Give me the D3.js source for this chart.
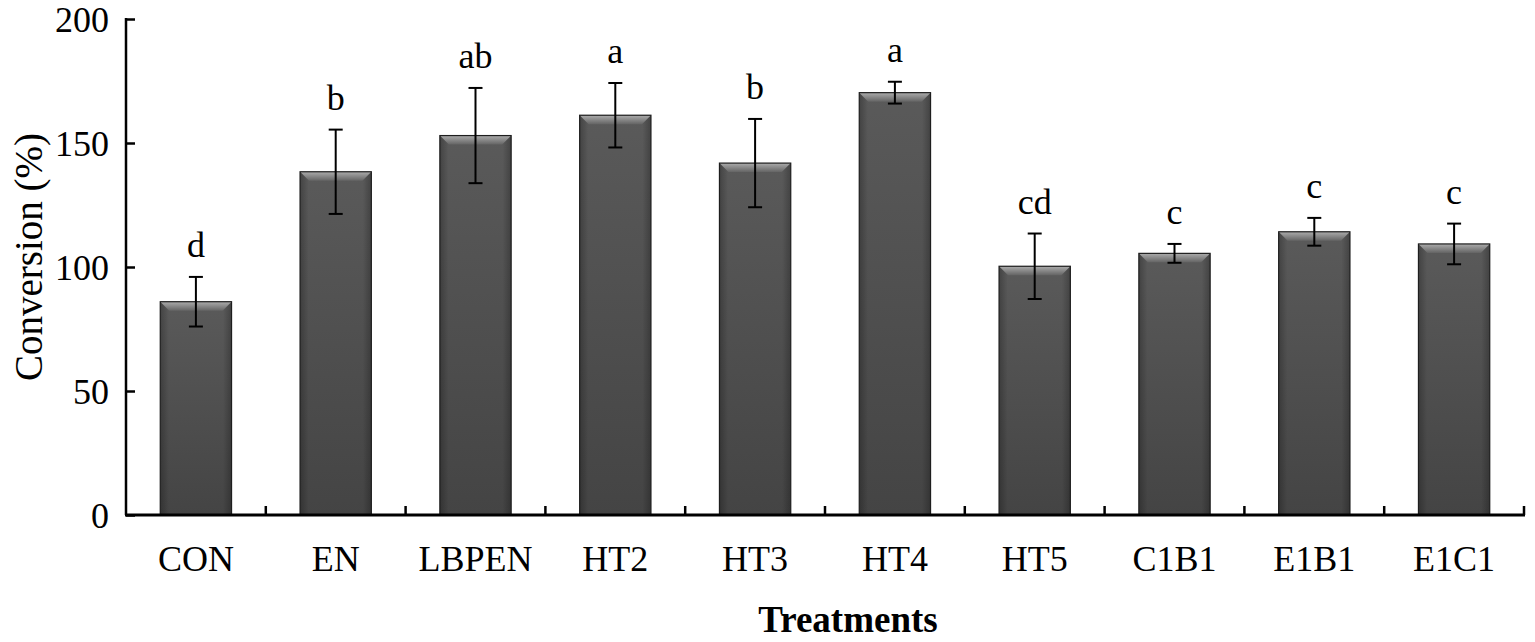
<!DOCTYPE html>
<html>
<head>
<meta charset="utf-8">
<script src="https://cdn.jsdelivr.net/npm/d3@7"></script>
<style>
  body { margin: 0; background: #fff; }
  svg { display: block; }
  text { font-family: "Liberation Serif", "Times New Roman", serif; fill: #000; }
</style>
</head>
<body>
<div id="chart"></div>
<script>
(function () {
	'use strict';

	// data
	var treatments = ["CON", "EN", "LBPEN", "HT2", "HT3", "HT4", "HT5", "C1B1", "E1B1", "E1C1"];
	var conversion = [86, 138.4, 153, 161.2, 141.9, 170.3, 100.3, 105.5, 114.2, 109.3];
	var errors = [10, 17, 19.2, 13, 17.8, 4.4, 13.2, 3.8, 5.6, 8.2];
	var groups = ["d", "b", "ab", "a", "b", "a", "cd", "c", "c", "c"];
	var yTicks = [0, 50, 100, 150, 200];

	var width = 1535, height = 642;
	var left = 126, right = 1524, top = 19, bottom = 515;

	var svg = d3.select("#chart")
		.append("svg")
		.attr("width", width)
		.attr("height", height);

	var defs = svg.append("defs");

	// body of the bar, slightly darker towards the base
	var body = defs.append("linearGradient")
		.attr("id", "barBody")
		.attr("x1", 0).attr("y1", 0).attr("x2", 0).attr("y2", 1);
	body.append("stop").attr("offset", "0%").attr("stop-color", "#5a5a5a");
	body.append("stop").attr("offset", "100%").attr("stop-color", "#444");

	// side shading
	var sides = defs.append("linearGradient")
		.attr("id", "barSides")
		.attr("x1", 0).attr("y1", 0).attr("x2", 1).attr("y2", 0);
	sides.append("stop").attr("offset", "0%").attr("stop-color", "#000").attr("stop-opacity", 0.25);
	sides.append("stop").attr("offset", "12%").attr("stop-color", "#000").attr("stop-opacity", 0);
	sides.append("stop").attr("offset", "88%").attr("stop-color", "#000").attr("stop-opacity", 0);
	sides.append("stop").attr("offset", "100%").attr("stop-color", "#000").attr("stop-opacity", 0.25);

	// bevel at the top edge
	var bevel = defs.append("linearGradient")
		.attr("id", "barBevel")
		.attr("x1", 0).attr("y1", 0).attr("x2", 0).attr("y2", 1);
	bevel.append("stop").attr("offset", "0%").attr("stop-color", "#acacac");
	bevel.append("stop").attr("offset", "100%").attr("stop-color", "#646464");

	var x = d3.scaleBand()
		.domain(treatments)
		.range([left, right])
		.paddingInner(0.49)
		.paddingOuter(0.245);

	var y = d3.scaleLinear()
		.domain([0, 200])
		.range([bottom, top]);

	var rows = treatments.map(function (t, i) {
		return { name: t, value: conversion[i], err: errors[i], group: groups[i] };
	});

	var bw = x.bandwidth();
	var bevelH = 9, bevelIn = 9;

	var bars = svg.selectAll("g.bar")
		.data(rows)
		.enter()
		.append("g")
		.attr("class", "bar");

	bars.append("rect")
		.attr("x", function (d) { return x(d.name); })
		.attr("y", function (d) { return y(d.value); })
		.attr("width", bw)
		.attr("height", function (d) { return y(0) - y(d.value); })
		.attr("fill", "url(#barBody)");

	bars.append("rect")
		.attr("x", function (d) { return x(d.name); })
		.attr("y", function (d) { return y(d.value); })
		.attr("width", bw)
		.attr("height", function (d) { return y(0) - y(d.value); })
		.attr("fill", "url(#barSides)");

	bars.append("path")
		.attr("fill", "url(#barBevel)")
		.attr("d", function (d) {
			var x0 = x(d.name), y0 = y(d.value);
			return "M" + x0 + "," + y0 +
				"L" + (x0 + bw) + "," + y0 +
				"L" + (x0 + bw - bevelIn) + "," + (y0 + bevelH) +
				"L" + (x0 + bevelIn) + "," + (y0 + bevelH) + "Z";
		});

	bars.append("rect")
		.attr("x", function (d) { return x(d.name); })
		.attr("y", function (d) { return y(d.value); })
		.attr("width", bw)
		.attr("height", function (d) { return y(0) - y(d.value); })
		.attr("fill", "none")
		.attr("stroke", "#1e1e1e")
		.attr("stroke-width", 1.2);

	// error bars
	var cap = 7;
	bars.append("line")
		.attr("x1", function (d) { return x(d.name) + bw / 2; })
		.attr("x2", function (d) { return x(d.name) + bw / 2; })
		.attr("y1", function (d) { return y(d.value + d.err); })
		.attr("y2", function (d) { return y(d.value - d.err); })
		.attr("stroke", "#000").attr("stroke-width", 2);
	bars.append("line")
		.attr("x1", function (d) { return x(d.name) + bw / 2 - cap; })
		.attr("x2", function (d) { return x(d.name) + bw / 2 + cap; })
		.attr("y1", function (d) { return y(d.value + d.err); })
		.attr("y2", function (d) { return y(d.value + d.err); })
		.attr("stroke", "#000").attr("stroke-width", 2);
	bars.append("line")
		.attr("x1", function (d) { return x(d.name) + bw / 2 - cap; })
		.attr("x2", function (d) { return x(d.name) + bw / 2 + cap; })
		.attr("y1", function (d) { return y(d.value - d.err); })
		.attr("y2", function (d) { return y(d.value - d.err); })
		.attr("stroke", "#000").attr("stroke-width", 2);

	// significance letters
	bars.append("text")
		.attr("x", function (d) { return x(d.name) + bw / 2; })
		.attr("y", function (d) { return y(d.value + d.err) - 20; })
		.attr("text-anchor", "middle")
		.style("font-size", "36px")
		.text(function (d) { return d.group; });

	// y axis
	var yAxis = svg.append("g")
		.attr("transform", "translate(" + left + ",0)")
		.call(d3.axisRight(y).tickValues(yTicks).tickSize(9).tickFormat(d3.format("d")));
	yAxis.select(".domain").attr("d", "M0," + (top - 1) + "V" + bottom).attr("stroke", "#000").attr("stroke-width", 2.5);
	yAxis.selectAll(".tick line").attr("stroke", "#000").attr("stroke-width", 2.5);
	yAxis.selectAll(".tick text")
		.attr("x", -17)
		.attr("dy", "0.34em")
		.attr("text-anchor", "end")
		.style("font-size", "36px")
		.style("font-family", "'Liberation Serif', 'Times New Roman', serif");

	// x axis with ticks between categories
	var boundaries = treatments.map(function (t) { return x(t) + bw / 2 + x.step() / 2; });
	svg.append("g")
		.selectAll("line")
		.data(boundaries)
		.enter()
		.append("line")
		.attr("x1", function (d) { return d; })
		.attr("x2", function (d) { return d; })
		.attr("y1", bottom)
		.attr("y2", bottom - 9)
		.attr("stroke", "#000")
		.attr("stroke-width", 2.5);

	svg.append("line")
		.attr("x1", left - 1).attr("x2", right + 1)
		.attr("y1", bottom).attr("y2", bottom)
		.attr("stroke", "#000").attr("stroke-width", 3);

	svg.append("g")
		.selectAll("text")
		.data(treatments)
		.enter()
		.append("text")
		.attr("x", function (d) { return x(d) + bw / 2; })
		.attr("y", 571)
		.attr("text-anchor", "middle")
		.style("font-size", "36px")
		.text(function (d) { return d; });

	// axis titles
	svg.append("text")
		.attr("x", (left + right) / 2 + 23)
		.attr("y", 632)
		.attr("text-anchor", "middle")
		.style("font-size", "37px")
		.style("font-weight", "bold")
		.text("Treatments");

	svg.append("text")
		.attr("transform", "translate(42," + ((top + bottom) / 2 - 10) + ") rotate(-90)")
		.attr("text-anchor", "middle")
		.style("font-size", "39px")
		.text("Conversion (%)");
}());
</script>
</body>
</html>
